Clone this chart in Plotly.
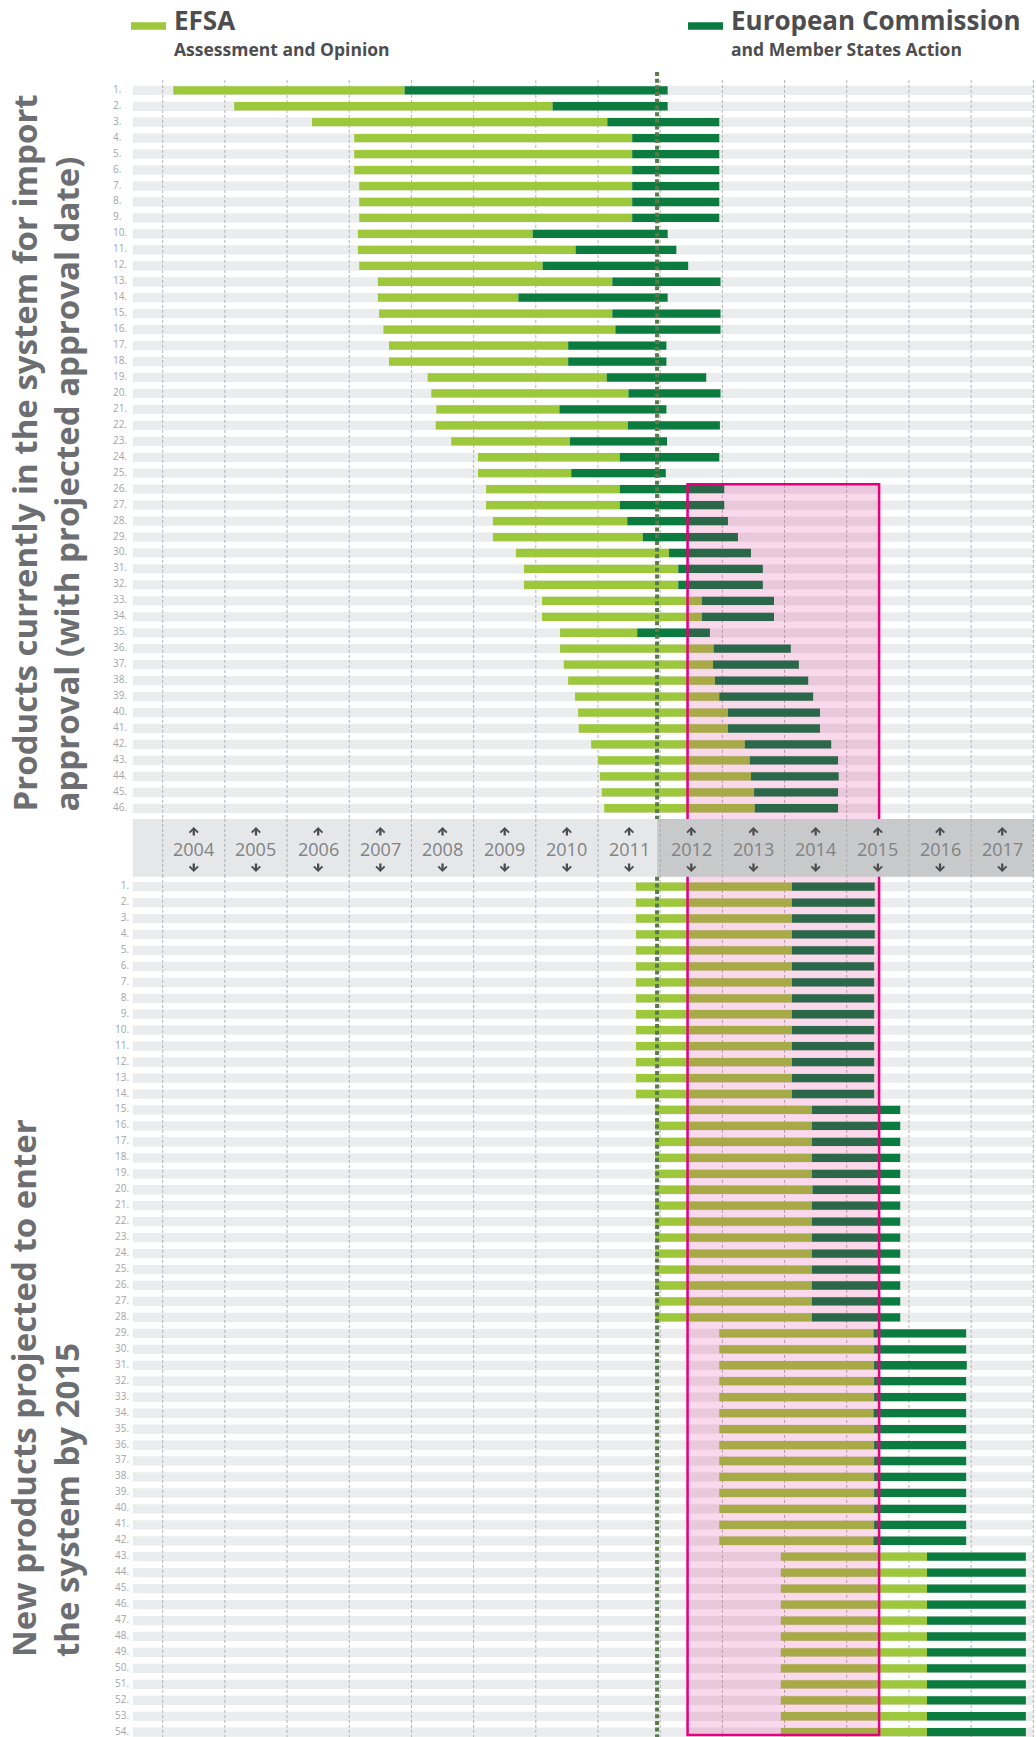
import plotly.graph_objects as go

# ---------------- data ----------------
years = list(range(2004, 2018))
grid_years = [y + 0.5 for y in range(2003, 2018)]
today = 2011.45

top_rows = list(range(1, 47))
top_efsa_start = [2003.67, 2004.65, 2005.90, 2006.58, 2006.58, 2006.58, 2006.66, 2006.66, 2006.66, 2006.64,
                  2006.64, 2006.66, 2006.96, 2006.96, 2006.98, 2007.05, 2007.14, 2007.14, 2007.76, 2007.82,
                  2007.90, 2007.89, 2008.14, 2008.57, 2008.57, 2008.70, 2008.70, 2008.81, 2008.81, 2009.18,
                  2009.31, 2009.31, 2009.60, 2009.60, 2009.89, 2009.89, 2009.95, 2010.02, 2010.13, 2010.18,
                  2010.19, 2010.39, 2010.50, 2010.53, 2010.56, 2010.60]
top_ec_start = [2007.39, 2009.77, 2010.65, 2011.05, 2011.05, 2011.05, 2011.05, 2011.05, 2011.05, 2009.45,
                2010.14, 2009.61, 2010.73, 2009.22, 2010.73, 2010.78, 2010.02, 2010.02, 2010.64, 2010.99,
                2009.88, 2010.98, 2010.05, 2010.85, 2010.07, 2010.85, 2010.85, 2010.97, 2011.22, 2011.64,
                2011.79, 2011.79, 2012.17, 2012.17, 2011.13, 2012.36, 2012.35, 2012.38, 2012.45, 2012.59,
                2012.59, 2012.86, 2012.94, 2012.96, 2013.01, 2013.02]
top_end = [2011.62, 2011.62, 2012.45, 2012.45, 2012.45, 2012.45, 2012.45, 2012.45, 2012.45, 2011.62,
           2011.76, 2011.95, 2012.47, 2011.62, 2012.47, 2012.47, 2011.60, 2011.60, 2012.24, 2012.47,
           2011.60, 2012.46, 2011.61, 2012.45, 2011.59, 2012.53, 2012.53, 2012.59, 2012.75, 2012.96,
           2013.15, 2013.15, 2013.33, 2013.33, 2012.30, 2013.60, 2013.73, 2013.88, 2013.96, 2014.07,
           2014.07, 2014.25, 2014.36, 2014.37, 2014.36, 2014.36]

bottom_rows = list(range(1, 55))
bot_efsa_start = [2011.11, 2011.11, 2011.11, 2011.11, 2011.11, 2011.11, 2011.11, 2011.11, 2011.11, 2011.11,
                  2011.11, 2011.11, 2011.11, 2011.11, 2011.42, 2011.42, 2011.42, 2011.42, 2011.42, 2011.42,
                  2011.42, 2011.42, 2011.42, 2011.42, 2011.42, 2011.42, 2011.42, 2011.42, 2012.45, 2012.45,
                  2012.45, 2012.45, 2012.45, 2012.45, 2012.45, 2012.45, 2012.45, 2012.45, 2012.45, 2012.45,
                  2012.45, 2012.45, 2013.44, 2013.44, 2013.44, 2013.44, 2013.44, 2013.44, 2013.44, 2013.44,
                  2013.44, 2013.44, 2013.44, 2013.44]
bot_ec_start = [2013.62, 2013.62, 2013.62, 2013.62, 2013.62, 2013.62, 2013.62, 2013.62, 2013.62, 2013.62,
                2013.62, 2013.62, 2013.62, 2013.62, 2013.94, 2013.94, 2013.94, 2013.94, 2013.94, 2013.95,
                2013.94, 2013.94, 2013.94, 2013.94, 2013.94, 2013.94, 2013.94, 2013.94, 2014.93, 2014.94,
                2014.94, 2014.94, 2014.94, 2014.93, 2014.94, 2014.94, 2014.94, 2014.94, 2014.94, 2014.94,
                2014.94, 2014.93, 2015.79, 2015.79, 2015.79, 2015.79, 2015.79, 2015.79, 2015.79, 2015.79,
                2015.79, 2015.79, 2015.79, 2015.79]
bot_end = [2014.95, 2014.95, 2014.95, 2014.95, 2014.94, 2014.94, 2014.94, 2014.94, 2014.94, 2014.94,
           2014.94, 2014.94, 2014.94, 2014.94, 2015.36, 2015.36, 2015.36, 2015.36, 2015.36, 2015.36,
           2015.36, 2015.36, 2015.36, 2015.36, 2015.36, 2015.36, 2015.36, 2015.36, 2016.42, 2016.42,
           2016.43, 2016.42, 2016.42, 2016.42, 2016.42, 2016.42, 2016.42, 2016.42, 2016.42, 2016.42,
           2016.42, 2016.42, 2017.38, 2017.38, 2017.38, 2017.38, 2017.38, 2017.38, 2017.38, 2017.38,
           2017.38, 2017.38, 2017.38, 2017.38]

highlight = (2011.94, 2015.02)

# ---------------- styling / layout constants ----------------
W, H = 1036, 1737
X_RANGE = [2000.884, 2017.543]
Y_TOP, Y_BOT = -4.66, 104.21
BOT_OFF = 49.91                 # slot offset of the lower block
ROW_START, ROW_END = 2003.02, 2017.5
BAND = (46.67, 50.29)
LG, DG = '#9dc83c', '#0b7b40'
ROWGRAY = '#ebeced'
TXT = '#4d4d4f'
FONT = 'Open Sans'


def xp(px):
    return px / W


def yp(py):
    return 1 - py / H


bot_y = [BOT_OFF + k for k in bottom_rows]
all_y = top_rows + bot_y

fig = go.Figure()

# grey row backgrounds
fig.add_trace(go.Bar(orientation='h', y=all_y, base=[ROW_START] * len(all_y),
                     x=[ROW_END - ROW_START] * len(all_y), width=0.58,
                     marker=dict(color=ROWGRAY, line=dict(width=0)),
                     hoverinfo='skip', showlegend=False))

# dashed year grid
gx, gy = [], []
for g in grid_years:
    gx += [g, g, None]
    gy += [0.35, Y_BOT, None]
fig.add_trace(go.Scatter(x=gx, y=gy, mode='lines',
                         line=dict(color='#b3b3b3', width=1, dash='3px,2px'),
                         hoverinfo='skip', showlegend=False))

# row numbers
fig.add_trace(go.Scatter(x=[2002.70] * len(top_rows), y=top_rows, mode='text',
                         text=[f"{i}." for i in top_rows], textposition='middle right',
                         textfont=dict(family=FONT, size=10, color='#a3a5a8'),
                         hoverinfo='skip', showlegend=False))
fig.add_trace(go.Scatter(x=[2002.96] * len(bottom_rows), y=bot_y, mode='text',
                         text=[f"{i}." for i in bottom_rows], textposition='middle left',
                         textfont=dict(family=FONT, size=10, color='#a3a5a8'),
                         hoverinfo='skip', showlegend=False))


# coloured bars (drawn on overlay axis so they sit above the grid)
def add_bars(ys, s, e, color):
    fig.add_trace(go.Bar(orientation='h', y=ys, base=s, x=[b - a for a, b in zip(s, e)],
                         width=0.52, marker=dict(color=color, line=dict(width=0)),
                         yaxis='y2', hoverinfo='skip', showlegend=False))


add_bars(top_rows, top_efsa_start, top_ec_start, LG)
add_bars(top_rows, top_ec_start, top_end, DG)
add_bars(bot_y, bot_efsa_start, bot_ec_start, LG)
add_bars(bot_y, bot_ec_start, bot_end, DG)

shapes = []
# highlight box 2012-2015
shapes.append(dict(type='rect', xref='x', yref='y', layer='above',
                   x0=highlight[0], x1=highlight[1], y0=26 - 0.31, y1=Y_BOT - 0.13,
                   fillcolor='rgba(230,0,126,0.15)', line=dict(color='#e6007e', width=2.5)))
# year band
shapes.append(dict(type='rect', xref='x', yref='y', layer='above',
                   x0=ROW_START, x1=today, y0=BAND[0], y1=BAND[1],
                   fillcolor='#e6e7e8', line=dict(width=0)))
shapes.append(dict(type='rect', xref='x', yref='y', layer='above',
                   x0=today, x1=ROW_END, y0=BAND[0], y1=BAND[1],
                   fillcolor='#c8c9cb', line=dict(width=0)))
for g in grid_years:
    shapes.append(dict(type='line', xref='x', yref='y', layer='above',
                       x0=g, x1=g, y0=BAND[0], y1=BAND[1],
                       line=dict(color='#a9abae', width=1, dash='3px,2px')))
# today line
for y0, y1 in [(-0.15, BAND[0]), (BAND[1], Y_BOT)]:
    shapes.append(dict(type='line', xref='x', yref='y', layer='above',
                       x0=today, x1=today, y0=y0, y1=y1,
                       line=dict(color='#5a7a4b', width=4, dash='4px,2.7px')))
# legend swatches
shapes.append(dict(type='rect', xref='paper', yref='paper', x0=xp(131), x1=xp(166),
                   y0=yp(29.7), y1=yp(22.3), fillcolor=LG, line=dict(width=0)))
shapes.append(dict(type='rect', xref='paper', yref='paper', x0=xp(688), x1=xp(723),
                   y0=yp(29.7), y1=yp(22.3), fillcolor=DG, line=dict(width=0)))

ann = []
# year labels with up/down arrows
for yr in years:
    ann.append(dict(x=yr, y=48.55, xref='x', yref='y', showarrow=False, text=str(yr),
                    font=dict(family=FONT, size=18, color='#808285')))
    ann.append(dict(x=yr, y=47.17, xref='x', yref='y', text='', showarrow=True,
                    ax=0, ay=10, arrowhead=4, arrowsize=0.72, arrowwidth=2.3, arrowcolor=TXT,
                    standoff=0, startstandoff=0))
    ann.append(dict(x=yr, y=49.99, xref='x', yref='y', text='', showarrow=True,
                    ax=0, ay=-10, arrowhead=4, arrowsize=0.72, arrowwidth=2.3, arrowcolor=TXT,
                    standoff=0, startstandoff=0))

# legend texts (title + subtitle in one block)
ann += [
    dict(x=xp(172), y=1.0, xref='paper', yref='paper', xanchor='left', yanchor='top',
         align='left', showarrow=False, font=dict(family=FONT, size=20.25, color=TXT),
         text='<span style="font-size:26px"><b>EFSA</b></span><br>'
              '<span style="font-size:17.5px"><b>Assessment and Opinion</b></span>'),
    dict(x=xp(729), y=1.0, xref='paper', yref='paper', xanchor='left', yanchor='top',
         align='left', showarrow=False, font=dict(family=FONT, size=20.25, color=TXT),
         text='<span style="font-size:26px"><b>European Commission</b></span><br>'
              '<span style="font-size:17.5px"><b>and Member States Action</b></span>'),
]

# vertical section titles
ann += [
    dict(x=xp(45), y=yp(814), xref='paper', yref='paper', xanchor='center', yanchor='bottom',
         textangle=-90, align='left', showarrow=False,
         text='<b>Products currently in the system for import<br>approval (with projected approval date)</b>',
         font=dict(family=FONT, size=33, color='#6d6e71')),
    dict(x=xp(45), y=yp(1659), xref='paper', yref='paper', xanchor='center', yanchor='bottom',
         textangle=-90, align='left', showarrow=False,
         text='<b>New products projected to enter<br>the system by 2015</b>',
         font=dict(family=FONT, size=33, color='#6d6e71')),
]

fig.update_layout(
    width=W, height=H, margin=dict(l=0, r=0, t=0, b=0),
    paper_bgcolor='white', plot_bgcolor='white',
    barmode='overlay', showlegend=False,
    xaxis=dict(range=X_RANGE, visible=False, fixedrange=True),
    yaxis=dict(range=[Y_BOT, Y_TOP], visible=False, fixedrange=True),
    yaxis2=dict(range=[Y_BOT, Y_TOP], overlaying='y', visible=False, fixedrange=True),
    shapes=shapes, annotations=ann,
)

fig.write_html("out.html", config={'displayModeBar': False},
               post_script="document.body.style.margin='0';document.body.style.overflow='hidden';")
